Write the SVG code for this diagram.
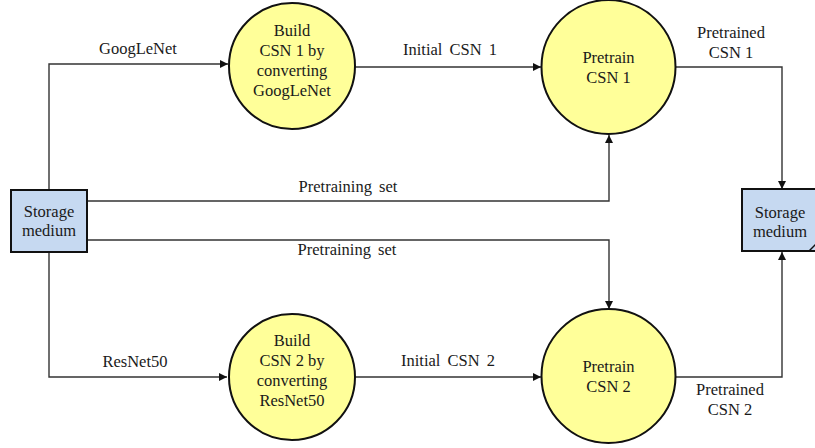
<svg xmlns="http://www.w3.org/2000/svg" width="815" height="448" viewBox="0 0 815 448">
  <style>
    text { font-size: 16.5px; fill: #1a1a1a; text-anchor: middle; }
    .lbl { word-spacing: 3px; }
    .proc { fill: #ffff99; stroke: #111; stroke-width: 2; }
    .store { fill: #c6d9f1; stroke: #111; stroke-width: 2; }
    .wire { fill: none; stroke: #333; stroke-width: 1.4; }
  </style>
  <defs>
    <marker id="arrow" viewBox="0 0 10 10" refX="10" refY="5" markerWidth="8" markerHeight="8" markerUnits="userSpaceOnUse" orient="auto">
      <path d="M0,0 L10,5 L0,10 z" fill="#111"/>
    </marker>
  </defs>
  <rect width="815" height="448" fill="#fff"/>

  <g font-family="'Liberation Serif', 'Times New Roman', 'DejaVu Serif', serif">
  <!-- connectors -->
  <g id="connectors">
    <path class="wire" d="M49,190 V64 H228" marker-end="url(#arrow)"/>
    <path class="wire" d="M49,252 V377 H227" marker-end="url(#arrow)"/>
    <path class="wire" d="M87,201 H609 V135" marker-end="url(#arrow)"/>
    <path class="wire" d="M87,240 H609 V309" marker-end="url(#arrow)"/>
    <path class="wire" d="M355,67 H541" marker-end="url(#arrow)"/>
    <path class="wire" d="M355,377 H541" marker-end="url(#arrow)"/>
    <path class="wire" d="M676,67 H782 V189" marker-end="url(#arrow)"/>
    <path class="wire" d="M676,377 H782 V252" marker-end="url(#arrow)"/>
    <text x="138" y="54">GoogLeNet</text>
    <text x="135" y="367">ResNet50</text>
    <text class="lbl" x="348" y="192">Pretraining set</text>
    <text class="lbl" x="347" y="255">Pretraining set</text>
    <text class="lbl" x="450" y="55">Initial CSN 1</text>
    <text class="lbl" x="448" y="366">Initial CSN 2</text>
    <text x="731" y="38">Pretrained</text>
    <text x="731" y="58">CSN 1</text>
    <text x="730" y="395">Pretrained</text>
    <text x="730" y="415">CSN 2</text>
  </g>

  <!-- storage medium (source) -->
  <g id="storage-in">
    <rect class="store" x="11" y="190" width="76" height="62"/>
    <text x="49" y="217">Storage</text>
    <text x="49" y="236">medium</text>
  </g>

  <!-- storage medium (sink) -->
  <g id="storage-out">
    <rect class="store" x="742" y="189" width="80" height="62"/>
    <path d="M809,251 L816,244" fill="none" stroke="#111" stroke-width="1.5"/>
    <text x="780" y="218">Storage</text>
    <text x="780" y="237">medium</text>
  </g>

  <g id="build-csn1">
    <circle class="proc" cx="292" cy="66" r="63"/>
    <text x="292" y="36">Build</text>
    <text x="292" y="56">CSN 1 by</text>
    <text x="292" y="76">converting</text>
    <text x="292" y="96">GoogLeNet</text>
  </g>

  <g id="build-csn2">
    <circle class="proc" cx="292" cy="377" r="63"/>
    <text x="292" y="346">Build</text>
    <text x="292" y="366">CSN 2 by</text>
    <text x="292" y="386">converting</text>
    <text x="292" y="406">ResNet50</text>
  </g>

  <g id="pretrain-csn1">
    <circle class="proc" cx="608.5" cy="67" r="67"/>
    <text x="608.5" y="63">Pretrain</text>
    <text x="608.5" y="83">CSN 1</text>
  </g>

  <g id="pretrain-csn2">
    <circle class="proc" cx="608.5" cy="376" r="67"/>
    <text x="608.5" y="372">Pretrain</text>
    <text x="608.5" y="392">CSN 2</text>
  </g>
  </g>
</svg>
